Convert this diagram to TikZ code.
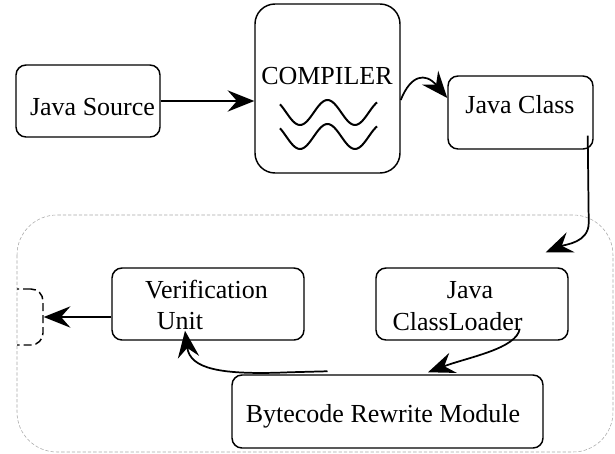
\documentclass[tikz,border=0pt]{standalone}
\usepackage{fontspec}
\setmainfont{Liberation Serif}
\usetikzlibrary{arrows.meta,calc}

\tikzset{every picture/.style={line width=0.75pt}}
\tikzset{
  blk/.style={draw, line width=1.1pt, rounded corners=7.5pt, inner sep=0pt},
  lbl/.style={anchor=base, inner sep=0.75pt, font=\fontsize{19.5}{23}\selectfont},
  arr/.style={line width=1.3pt, -{Stealth[length=20pt,width=16pt,inset=7pt]}},
}

\begin{document}
\begin{tikzpicture}[x=0.75pt,y=0.75pt,yscale=-1]
\useasboundingbox (0,0) rectangle (615,454);

%Shape: Rounded Rect (runtime frame)
\draw[gray!70, line width=0.4pt, dash pattern=on 2.5pt off 1.5pt, rounded corners=30pt] (17,215) rectangle (613,452);

%Shape: Rounded Rect
\node[blk, minimum width=108pt, minimum height=54pt] (src) at (88,101) {};
\node[blk, rounded corners=15pt, minimum width=108.75pt, minimum height=126.75pt] (comp) at (327.5,88.5) {};
\node[blk, minimum width=108.75pt, minimum height=54.75pt] (cls) at (520.5,112.5) {};
\node[blk, minimum width=144pt, minimum height=54pt] (verif) at (208,304) {};
\node[blk, minimum width=144pt, minimum height=54pt] (ldr) at (472,304) {};
\node[blk, minimum width=233.25pt, minimum height=54.75pt] (byte) at (387.5,411.5) {};

%Shape: Rounded Rect (cut at the frame)
\begin{scope}
\clip (17,0) rectangle (615,454);
\node[draw, line width=1.1pt, dash pattern=on 6pt off 3pt, rounded corners=9pt, minimum width=39.75pt, minimum height=42pt] (ext) at (16.5,317) {};
\end{scope}

%Curve Lines (compiler waves)
\foreach \dy in {0,24}
  \draw[line width=1.5pt, smooth, samples=60, domain=280:377] plot (\x, {112.5+\dy+12.5*cos(6.545*(\x-300))});

% Text Node
\node[lbl] (srctxt) at (92.5,115) {Java Source};
\node[lbl] (comptxt) at (327,84) {COMPILER};
\node[lbl] (clstxt) at (520,113) {Java Class};
\node[lbl] (veriftxt) at (206.5,298) {Verification};
\node[lbl] (unittxt) at (180,329) {Unit};
\node[lbl] (ldrtxt) at (470,298) {Java};
\node[lbl] (ldrtxtb) at (457.5,330) {ClassLoader};
\node[lbl] (bytetxt) at (383,422) {Bytecode Rewrite Module};

%Straight Lines
\draw[arr] (src.east) -- (src.east -| comp.west);
\draw[arr] ($(verif.west)+(0,13)$) -- (ext.east);

%Curve Lines
\draw[arr] ($(comp.east)+(0,11.5)$) .. controls +(10,-25) and +(-22,-26) .. ($(cls.west)+(0,-14.5)$);
\draw[arr] ($(cls.south east)+(-6,-14)$) -- ++(1,87) .. controls +(0,20) and +(20,-8) .. ($(ldr.north east)+(-23,-15)$);
\draw[arr] ($(ldr.south east)+(-49,-12)$) .. controls +(-3,20) and +(40,-15) .. ($(byte.north)+(40.5,-2)$);
\draw[arr] ($(byte.north)+(-60,-3)$) -- ++(-38,1) .. controls +(-70,3) and +(5,38) .. ($(verif.south)+(-23,-10)$);

\end{tikzpicture}
\end{document}
